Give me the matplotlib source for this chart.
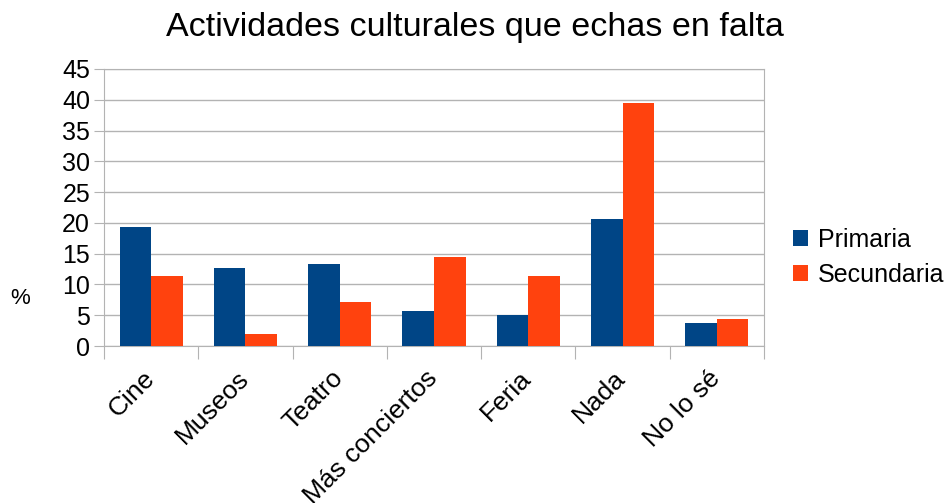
import matplotlib
matplotlib.use("Agg")
import matplotlib.pyplot as plt
from matplotlib.transforms import ScaledTranslation
import numpy as np

plt.rcParams['font.family'] = ['Liberation Sans', 'DejaVu Sans']

categorias = ["Cine", "Museos", "Teatro", "Más conciertos", "Feria", "Nada", "No lo sé"]
primaria = [19.35, 12.7, 13.35, 5.7, 5.1, 20.6, 3.8]
secundaria = [11.4, 2.0, 7.2, 14.5, 11.4, 39.5, 4.4]

fig = plt.figure(figsize=(9.49, 5.03), dpi=100)
ax = fig.add_axes([0.1096, 0.312, 0.6954, 0.551])

x = np.arange(len(categorias))
ancho = 0.335
ax.bar(x - ancho / 2, primaria, ancho, color="#004586", label="Primaria", zorder=3)
ax.bar(x + ancho / 2, secundaria, ancho, color="#ff420e", label="Secundaria", zorder=3)

ax.set_xlim(-0.5, len(categorias) - 0.5)
ax.set_ylim(0, 45)
ax.set_yticks(range(0, 46, 5))
ax.yaxis.grid(True, color="#b3b3b3", linewidth=1, zorder=0)

# ticks en los límites de categorías, etiquetas centradas
ax.set_xticks(np.arange(-0.5, len(categorias), 1))
ax.set_xticklabels([])
ax.set_xticks(x, minor=True)
ax.set_xticklabels(categorias, minor=True, rotation=45, ha="right", va="top",
                   rotation_mode="anchor", fontsize=19)
ax.tick_params(axis="x", which="minor", length=0, pad=10)
ax.tick_params(axis="x", which="major", length=9, color="#b3b3b3")
ax.tick_params(axis="y", length=7, color="#b3b3b3", labelsize=18, pad=3)

# desplazar etiquetas un poco abajo a la izquierda
desp = ScaledTranslation(-9 / 100, -6 / 100, fig.dpi_scale_trans)
for lbl in ax.get_xticklabels(minor=True):
    lbl.set_transform(lbl.get_transform() + desp)

for s in ax.spines.values():
    s.set_color("#b3b3b3")

fig.text(0.5, 0.945, "Actividades culturales que echas en falta",
         ha="center", va="center", fontsize=24.5)
fig.text(0.021, 1 - 298 / 503, "%", ha="center", va="center", fontsize=16)

ax.legend(loc="center left", bbox_to_anchor=(1.01, 0.32), frameon=False,
          fontsize=18, handlelength=0.6, handleheight=0.6, handletextpad=0.4,
          labelspacing=0.45)

fig.savefig("out.png", dpi=100)
